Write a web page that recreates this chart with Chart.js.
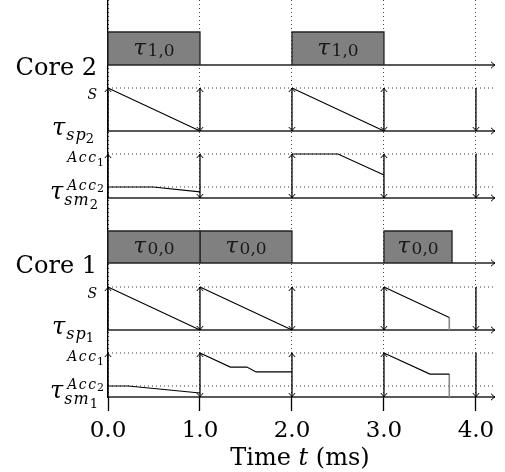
<!DOCTYPE html>
<html>
<head>
<meta charset="utf-8">
<script src="https://cdn.jsdelivr.net/npm/chart.js@4.4.1/dist/chart.umd.min.js"></script>
<style>
  html, body { margin: 0; padding: 0; background: #fff; }
</style>
</head>
<body>
<canvas id="schedChartID" width="505" height="472"></canvas>
<script>
// time axis (ms)
var tickValues = [0, 1, 2, 3, 4];
var tickLabels = ['0.0', '1.0', '2.0', '3.0', '4.0'];
var releaseTimes = [0, 1, 2, 3, 4];
var upArrowTimes = [0, 1, 2, 3];
var downArrowTimes = [1, 2, 3, 4];

// task execution per core, [start, end]
var core2Tasks = [[0, 1], [2, 3]];
var core2TaskNames = ['1,0', '1,0'];
var core1Tasks = [[0, 1], [1, 2], [3, 3.74]];
var core1TaskNames = ['0,0', '0,0', '0,0'];

// levels, as fraction of the top level of each lane
var levelS = 1;
var levelAcc1 = 1;
var levelAcc2 = 0.25;

// traces [t, value], null breaks the line
var sp2 = [[0, 1], [1, 0], null, [2, 1], [3, 0]];
var sm2 = [[0, 0.25], [0.49, 0.25], [1, 0.14], null, [2, 1], [2.5, 1], [3, 0.52]];
var sp1 = [[0, 1], [1, 0], null, [1, 1], [2, 0], null, [3, 1], [3.71, 0.29]];
var sm1 = [[0, 0.25], [0.22, 0.25], [1, 0.09], null, [1, 1], [1.33, 0.68], [1.51, 0.68],
           [1.61, 0.57], [2, 0.57], null, [3, 1], [3.5, 0.52], [3.71, 0.52]];
var core1StopTime = 3.71;

// layout of the lanes on one y scale (1 unit = 1 px)
var T_END = 4.207;
var lanes = {
  core2: { base: 332, h: 33 },
  sp2:   { base: 266, h: 43 },
  sm2:   { base: 199, h: 44 },
  core1: { base: 134, h: 32 },
  sp1:   { base: 67,  h: 43 },
  sm1:   { base: 0,   h: 44 }
};
var SERIF = '"DejaVu Serif", serif';

function ly(lane, v) { return lane.base + v * lane.h; }

function toPts(lane, arr) {
  var out = [], lastX = 0;
  arr.forEach(function (p) {
    if (p) { out.push({ x: p[0], y: ly(lane, p[1]) }); lastX = p[0]; }
    else out.push({ x: lastX, y: null });
  });
  return out;
}

function hline(lane, v, dashed) {
  return {
    data: [{ x: 0, y: ly(lane, v) }, { x: T_END, y: ly(lane, v) }],
    borderColor: dashed ? '#333' : '#222',
    borderWidth: dashed ? 1 : 1.4,
    borderDash: dashed ? [1, 3] : [],
    clip: false
  };
}

function boxSets(lane, tasks) {
  return tasks.map(function (t) {
    return {
      data: [{ x: t[0], y: ly(lane, 0) }, { x: t[0], y: ly(lane, 1) },
             { x: t[1], y: ly(lane, 1) }, { x: t[1], y: ly(lane, 0) }],
      borderColor: '#222', borderWidth: 1.3,
      backgroundColor: '#808080',
      fill: { value: lane.base },
      clip: false
    };
  });
}

function trace(lane, arr) {
  return { data: toPts(lane, arr), borderColor: '#000', borderWidth: 1.1, clip: false };
}

function dropLine(lane, arr) {
  var last = arr[arr.length - 1];
  return {
    data: [{ x: core1StopTime, y: ly(lane, last[1]) }, { x: core1StopTime, y: ly(lane, 0) }],
    borderColor: '#888', borderWidth: 1.6, clip: false
  };
}

// first dataset is drawn on top
var datasets = [].concat(
  [trace(lanes.sp2, sp2), trace(lanes.sm2, sm2), trace(lanes.sp1, sp1), trace(lanes.sm1, sm1),
   dropLine(lanes.sp1, sp1), dropLine(lanes.sm1, sm1)],
  Object.keys(lanes).map(function (k) { return hline(lanes[k], 0, false); }),
  boxSets(lanes.core2, core2Tasks),
  boxSets(lanes.core1, core1Tasks),
  [hline(lanes.sp2, levelS, true), hline(lanes.sp1, levelS, true),
   hline(lanes.sm2, levelAcc1, true), hline(lanes.sm2, levelAcc2, true),
   hline(lanes.sm1, levelAcc1, true), hline(lanes.sm1, levelAcc2, true)]
);

function arrowHead(ctx, x, y, dx, dy) {
  var L = 4, W = 3.2;
  var bx = x - dx * L, by = y - dy * L, px = -dy, py = dx;
  ctx.beginPath();
  ctx.moveTo(bx + px * W, by + py * W);
  ctx.quadraticCurveTo(x - dx * 1.5 + px * 0.8, y - dy * 1.5 + py * 0.8, x, y);
  ctx.quadraticCurveTo(x - dx * 1.5 - px * 0.8, y - dy * 1.5 - py * 0.8, bx - px * W, by - py * W);
  ctx.stroke();
}

var arrowPlugin = {
  id: 'arrows',
  afterDatasetsDraw: function (chart) {
    var ctx = chart.ctx, xs = chart.scales.x, ys = chart.scales.y;
    ctx.save();
    ctx.strokeStyle = '#000';
    ['sp2', 'sm2', 'sp1', 'sm1'].forEach(function (k) {
      var lane = lanes[k];
      var y0 = ys.getPixelForValue(lane.base), y1 = ys.getPixelForValue(ly(lane, 1));
      releaseTimes.forEach(function (t) {
        var x = xs.getPixelForValue(t);
        ctx.lineWidth = 1.3;
        ctx.beginPath(); ctx.moveTo(x, y0); ctx.lineTo(x, y1); ctx.stroke();
        ctx.lineWidth = 1;
        if (upArrowTimes.indexOf(t) >= 0) arrowHead(ctx, x, y1, 0, -1);
        if (downArrowTimes.indexOf(t) >= 0) arrowHead(ctx, x, y0, 0, 1);
      });
    });
    ctx.lineWidth = 1;
    Object.keys(lanes).forEach(function (k) {
      arrowHead(ctx, xs.getPixelForValue(T_END), ys.getPixelForValue(lanes[k].base), 1, 0);
    });
    ctx.restore();
  }
};

function rich(ctx, parts, x, y, align) {
  var total = 0;
  parts.forEach(function (p) { ctx.font = p.f; p.w = ctx.measureText(p.t).width; total += p.w + (p.k || 0); });
  var cx = align === 'center' ? x - total / 2 : x - total;
  parts.forEach(function (p) {
    ctx.font = p.f;
    ctx.fillText(p.t, cx, y + (p.dy || 0));
    cx += p.w + (p.k || 0);
  });
}

var labelPlugin = {
  id: 'laneLabels',
  afterDraw: function (chart) {
    var ctx = chart.ctx, xs = chart.scales.x, ys = chart.scales.y;
    function py(lane, v) { return ys.getPixelForValue(ly(lane, v)); }
    ctx.save();
    ctx.fillStyle = '#000';
    ctx.textBaseline = 'alphabetic';
    ctx.textAlign = 'left';

    // core labels
    rich(ctx, [{ t: 'Core 2', f: '24px ' + SERIF }], 97, py(lanes.core2, 0) + 10);
    rich(ctx, [{ t: 'Core 1', f: '24px ' + SERIF }], 97, py(lanes.core1, 0) + 10);

    // budget lanes
    [['sp2', '2'], ['sp1', '1']].forEach(function (d) {
      var lane = lanes[d[0]];
      rich(ctx, [{ t: 'S', f: 'italic 14px ' + SERIF }], 97, py(lane, levelS) + 11);
      rich(ctx, [{ t: 'τ', f: 'italic 24px ' + SERIF, k: 1 },
                 { t: 's', f: 'italic 16px ' + SERIF, dy: 5, k: 1 },
                 { t: 'p', f: 'italic 16px ' + SERIF, dy: 5 },
                 { t: d[1], f: '13px ' + SERIF, dy: 8 }], 94, py(lane, 0) + 4);
    });
    [['sm2', '2'], ['sm1', '1']].forEach(function (d) {
      var lane = lanes[d[0]];
      rich(ctx, [{ t: 'A', f: 'italic 14px ' + SERIF, k: 1.5 },
                 { t: 'c', f: 'italic 14px ' + SERIF, k: 1.5 },
                 { t: 'c', f: 'italic 14px ' + SERIF, k: 1 },
                 { t: '1', f: '11px ' + SERIF, dy: 4 }], 104, py(lane, levelAcc1) + 8);
      rich(ctx, [{ t: 'A', f: 'italic 14px ' + SERIF, k: 1.5 },
                 { t: 'c', f: 'italic 14px ' + SERIF, k: 1.5 },
                 { t: 'c', f: 'italic 14px ' + SERIF, k: 1 },
                 { t: '2', f: '11px ' + SERIF, dy: 2 }], 104, py(lane, levelAcc2) + 3);
      rich(ctx, [{ t: 'τ', f: 'italic 24px ' + SERIF, k: 1 },
                 { t: 's', f: 'italic 16px ' + SERIF, dy: 6, k: 1 },
                 { t: 'm', f: 'italic 16px ' + SERIF, dy: 6, k: 1 },
                 { t: d[1], f: '13px ' + SERIF, dy: 10 }], 98, py(lane, 0) + 1);
    });

    // task names inside the boxes
    ctx.fillStyle = '#1a1a1a';
    [[lanes.core2, core2Tasks, core2TaskNames], [lanes.core1, core1Tasks, core1TaskNames]].forEach(function (d) {
      d[1].forEach(function (t, i) {
        var cx = xs.getPixelForValue((t[0] + t[1]) / 2);
        var cy = (py(d[0], 0) + py(d[0], 1)) / 2;
        rich(ctx, [{ t: 'τ', f: 'italic 23px ' + SERIF, k: 1.5 },
                   { t: d[2][i], f: '17px ' + SERIF, dy: 1 }], cx, cy + 6, 'center');
      });
    });

    // axis title
    ctx.fillStyle = '#000';
    rich(ctx, [{ t: 'Time ', f: '24px ' + SERIF },
               { t: 't', f: 'italic 24px ' + SERIF },
               { t: ' (ms)', f: '24px ' + SERIF }], 300, 465, 'center');
    ctx.restore();
  }
};

var myContext = document.getElementById('schedChartID').getContext('2d');
var myChart = new Chart(myContext, {
  type: 'line',
  data: { datasets: datasets },
  options: {
    responsive: false,
    animation: false,
    layout: { padding: { top: 0, right: 10, bottom: 0, left: 0 } },
    elements: { point: { radius: 0 }, line: { tension: 0 } },
    plugins: { legend: { display: false }, tooltip: { enabled: false } },
    scales: {
      x: {
        type: 'linear', min: 0, max: T_END,
        afterBuildTicks: function (s) { s.ticks = tickValues.map(function (v) { return { value: v }; }); },
        afterFit: function (s) { s.height = 75; },
        grid: { color: '#444', lineWidth: 1, drawTicks: true, tickLength: 14,
                tickColor: '#000', tickWidth: 1.3, tickBorderDash: [] },
        border: { display: false, dash: [1, 3] },
        ticks: {
          padding: 6, color: '#000', maxRotation: 0, autoSkip: false,
          font: { family: 'DejaVu Serif', size: 23 },
          callback: function (v, i) { return tickLabels[i]; }
        }
      },
      y: {
        type: 'linear', min: 0, max: 397,
        afterFit: function (s) { s.width = 108; },
        grid: { display: false },
        border: { display: true, color: '#000', width: 1.3 },
        ticks: { display: false }
      }
    }
  },
  plugins: [arrowPlugin, labelPlugin]
});
</script>
</body>
</html>
